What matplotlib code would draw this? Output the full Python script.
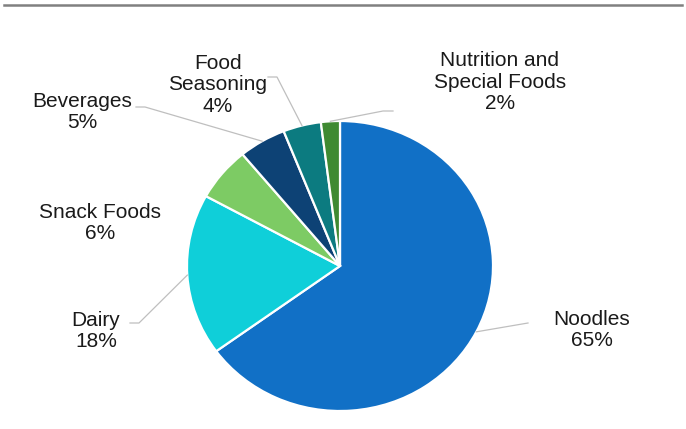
import numpy as np
import matplotlib

matplotlib.use("Agg")

import matplotlib.pyplot as plt
from matplotlib.lines import Line2D

plt.rcParams["font.family"] = ["Liberation Sans", "DejaVu Sans"]

categories = ["Noodles", "Dairy", "Snack Foods", "Beverages", "Food\nSeasoning",
              "Nutrition and\nSpecial Foods"]
shares = [65, 18, 6, 5, 4, 2]
colors = ["#1170C6", "#0FCFD9", "#7DCB64", "#0D4275", "#0C7B80", "#3F8A32"]

# label block centres (pixels) and leader line bend points (pixels)
label_pos = [(592, 330), (96, 331), (100, 223), (82, 112), (218, 85), (500, 82)]
leaders = [
    [(528, 323)],
    [(139, 323), (130, 323)],
    None,
    [(145, 107), (136, 107)],
    [(277, 77), (268, 77)],
    [(383, 111), (393, 111)],
]

W, H = 686, 429
CX, CY, RX, RY = 340, 266, 153, 145

fig = plt.figure(figsize=(W / 100, H / 100), dpi=100)
ax = fig.add_axes([(CX - RX) / W, (H - CY - RY) / H, 2 * RX / W, 2 * RY / H])

wedges, _ = ax.pie(shares, colors=colors, startangle=90, counterclock=False,
                   radius=1, wedgeprops=dict(edgecolor="white", linewidth=1.6))
ax.set_aspect("auto")
ax.set_xlim(-1, 1)
ax.set_ylim(-1, 1)
ax.axis("off")


def px(x, y):
    return (x - CX) / RX, (CY - y) / RY


for wedge, name, share, pos, lead in zip(wedges, categories, shares, label_pos, leaders):
    mid = np.deg2rad((wedge.theta1 + wedge.theta2) / 2)
    if lead is not None:
        xs = [np.cos(mid)] + [px(*p)[0] for p in lead]
        ys = [np.sin(mid)] + [px(*p)[1] for p in lead]
        ax.plot(xs, ys, color="#BFBFBF", lw=0.9, clip_on=False)
    tx, ty = px(*pos)
    ax.text(tx, ty, f"{name}\n{share}%", ha="center", va="center",
            fontsize=15, color="#1A1A1A", linespacing=1.15, clip_on=False)

fig.add_artist(Line2D([4 / W, 682 / W], [1 - 5 / H, 1 - 5 / H],
                      color="#808080", lw=1.8, transform=fig.transFigure))

fig.savefig("out.png", dpi=100)
